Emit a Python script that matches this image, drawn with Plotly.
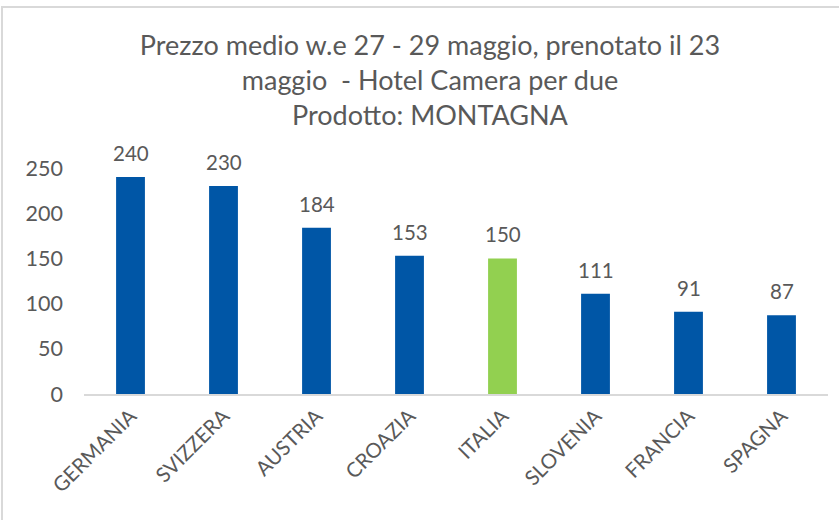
import plotly.graph_objects as go

categories = ["GERMANIA", "SVIZZERA", "AUSTRIA", "CROAZIA", "ITALIA", "SLOVENIA", "FRANCIA", "SPAGNA"]
values = [240, 230, 184, 153, 150, 111, 91, 87]
highlight = "ITALIA"
y_ticks = [0, 50, 100, 150, 200, 250]
title_lines = ["Prezzo medio w.e 27 - 29 maggio, prenotato il 23",
               "maggio  - Hotel Camera per due",
               "Prodotto: MONTAGNA"]

BLUE = "#0056A6"
GREEN = "#92D050"
TXT = "#595959"
FONT = "Lato"

colors = [GREEN if c == highlight else BLUE for c in categories]

fig = go.Figure()
fig.add_trace(go.Bar(x=categories, y=values, marker=dict(color=colors, line=dict(width=0)),
                     width=0.31, hoverinfo="skip"))

for c, v in zip(categories, values):
    fig.add_annotation(x=c, y=v, text=str(v), showarrow=False, yanchor="bottom",
                       yshift=10, font=dict(family=FONT, size=20.5, color=TXT))

L, R, T, B = 84, 11, 168, 126
W, H = 839, 520
pw, ph = W - L - R, H - T - B
fig.add_shape(type="rect", xref="paper", yref="paper",
              x0=(2 - L) / pw, x1=(W + 20 - L) / pw,
              y0=(H - B - (H + 20)) / ph, y1=(H - B - 7) / ph,
              line=dict(color="#D9D9D9", width=2), layer="below")

fig.update_layout(
    width=W, height=H,
    margin=dict(l=L, r=R, t=T, b=B, autoexpand=False),
    paper_bgcolor="white", plot_bgcolor="white",
    showlegend=False,
    title=dict(text="<br>".join(title_lines), x=430 / W, xanchor="center",
               y=1 - 55 / H, yanchor="top",
               font=dict(family=FONT, size=27, color=TXT)),
    xaxis=dict(tickangle=-45, tickfont=dict(family=FONT, size=20.5, color=TXT),
               showline=True, linecolor="#D9D9D9", linewidth=2, ticks="",
               showgrid=False, automargin=False),
    yaxis=dict(range=[0, 250], tickvals=y_ticks, showgrid=False, zeroline=False,
               showline=False, ticks="", ticklabelstandoff=20, automargin=False,
               tickfont=dict(family=FONT, size=21.5, color=TXT)),
)
fig.write_html("out.html", config={"displayModeBar": False},
               post_script="document.body.style.margin='0';")
